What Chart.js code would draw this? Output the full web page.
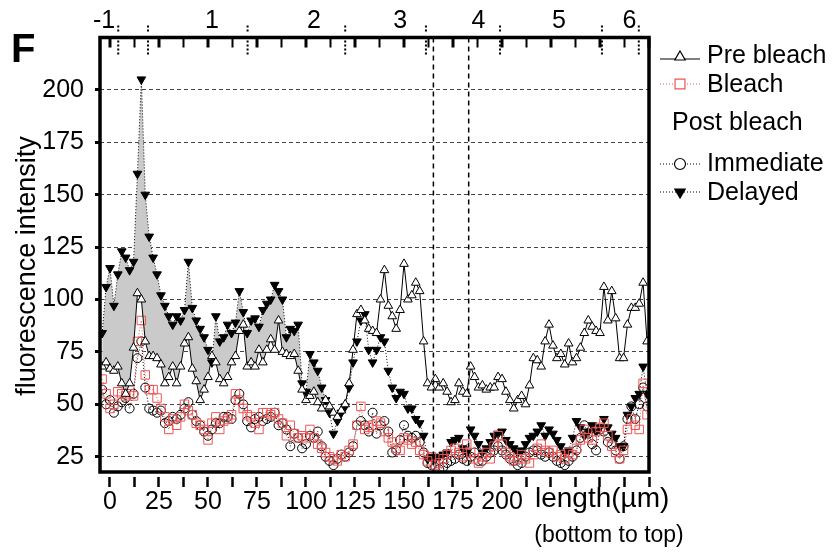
<!DOCTYPE html>
<html>
<head>
<meta charset="utf-8">
<script src="https://cdn.jsdelivr.net/npm/chart.js@4.4.0/dist/chart.umd.min.js"></script>
<style>
  html, body { margin: 0; padding: 0; background: #fff; }
  #wrap { width: 833px; height: 552px; }
</style>
</head>
<body>
<div id="wrap"><canvas id="chart" width="833" height="552"></canvas></div>
<script>
// Fluorescence profile along the cell (panel F)

// positions along the cell, µm (bottom to top)
const lengthUm = [-4, -2, 0, 2, 4, 6, 8, 10, 12, 14, 16, 18, 20, 22, 24, 26, 28, 30, 32, 34, 36, 38, 40, 42, 44, 46, 48, 50, 52, 54,
  56, 58, 60, 62, 64, 66, 68, 70, 72, 74, 76, 78, 80, 82, 84, 86, 88, 90, 92, 94, 96, 98, 100, 102, 104, 106, 108, 110, 112, 114, 116,
  118, 120, 122, 124, 126, 128, 130, 132, 134, 136, 138, 140, 142, 144, 146, 148, 150, 152, 154, 156, 158, 160, 162, 164, 166, 168, 170, 172, 174, 176,
  178, 180, 182, 184, 186, 188, 190, 192, 194, 196, 198, 200, 202, 204, 206, 208, 210, 212, 214, 216, 218, 220, 222, 224,
  226, 228, 230, 232, 234, 236, 238, 240, 242, 244, 246, 248, 250, 252, 254, 256, 258, 260, 262, 264, 266, 268, 270, 272, 274];

const preBleach = [68, 70, 67, 66, 68, 60, 55, 60, 77, 103, 100, 80, 73, 73, 72, 69, 60, 63, 68, 60, 68, 79, 82, 67, 61, 52, 57, 63, 73, 70,
  62, 60, 63, 70, 73, 85, 88, 68, 70, 68, 76, 70, 76, 81, 76, 90, 75, 74, 73, 74, 66, 57, 52, 54, 56, 51, 48, 52, 49, 46, 44,
  47, 50, 60, 76, 93, 95, 90, 86, 85, 84, 100, 114, 97, 92, 86, 95, 117, 100, 102, 108, 104, 80, 60, 58, 62, 58, 60, 56, 51, 52,
  60, 56, 55, 68, 63, 58, 59, 57, 58, 58, 63, 62, 56, 52, 48, 52, 54, 50, 59, 72, 71, 68, 80, 88,
  78, 72, 74, 69, 79, 70, 72, 77, 84, 90, 87, 85, 84, 106, 90, 104, 91, 72, 72, 88, 96, 96, 98, 108, 80];

const bleach = [62, 55, 48, 50, 56, 55, 54, 55, 54, 80, 90, 64, 57, 57, 53, 48, 44, 38, 43, 40, 44, 50, 47, 45, 41, 40, 38, 33, 41, 44,
  38, 42, 43, 45, 55, 52, 48, 45, 44, 41, 38, 46, 46, 45, 46, 43, 41, 35, 40, 36, 34, 35, 34, 38, 34, 31, 29, 27, 25, 24, 23,
  26, 25, 28, 31, 40, 49, 38, 39, 40, 42, 41, 37, 34, 32, 29, 28, 34, 33, 31, 32, 28, 26, 23, 25, 21, 22, 24, 26, 28, 29,
  27, 25, 31, 27, 24, 22, 25, 27, 24, 30, 35, 31, 27, 25, 23, 24, 26, 24, 22, 26, 29, 31, 28, 27,
  28, 25, 26, 24, 27, 26, 29, 33, 38, 34, 33, 37, 39, 41, 35, 30, 27, 24, 28, 38, 43, 40, 38, 60, 45];

const immediate = [57, 50, 52, 46, 49, 51, 53, 48, 55, 72, 80, 58, 48, 47, 46, 47, 41, 42, 44, 43, 45, 48, 51, 45, 42, 40, 37, 35, 38, 41,
  41, 44, 44, 43, 52, 55, 50, 42, 39, 43, 44, 42, 43, 44, 46, 40, 41, 38, 30, 36, 34, 29, 31, 35, 34, 37, 30, 25, 23, 21, 24,
  26, 25, 27, 30, 40, 42, 40, 37, 46, 36, 40, 42, 37, 27, 28, 33, 40, 35, 34, 35, 32, 27, 22, 21, 20, 19, 20, 22, 23, 24,
  26, 24, 23, 25, 27, 23, 23, 25, 27, 28, 30, 28, 26, 24, 23, 21, 22, 25, 27, 28, 28, 26, 25, 27,
  25, 23, 22, 21, 23, 25, 28, 34, 40, 36, 31, 28, 38, 37, 32, 31, 28, 24, 30, 43, 49, 43, 50, 58, 49];

const delayed = [84, 106, 115, 97, 112, 123, 120, 114, 118, 160, 205, 150, 130, 120, 112, 102, 97, 92, 88, 92, 90, 95, 118, 96, 90, 86, 82, 76, 70, 92,
  80, 82, 88, 84, 89, 104, 94, 84, 90, 91, 87, 95, 98, 100, 107, 104, 100, 82, 86, 85, 88, 60, 56, 74, 70, 66, 58, 52, 46, 36, 42,
  46, 49, 58, 70, 80, 90, 93, 76, 70, 76, 82, 80, 66, 58, 53, 56, 55, 48, 48, 43, 41, 35, 24, 25, 24, 25, 26, 27, 32, 33,
  34, 29, 27, 38, 35, 31, 27, 29, 32, 35, 36, 37, 33, 31, 29, 27, 28, 31, 34, 35, 37, 40, 35, 38,
  36, 33, 30, 27, 28, 34, 42, 39, 35, 37, 40, 37, 39, 43, 39, 36, 34, 30, 30, 45, 49, 53, 55, 68, 55];

// axes
const xTickValues = [0, 12.5, 25, 37.5, 50, 62.5, 75, 87.5, 100, 112.5, 125, 137.5, 150, 162.5, 175, 187.5, 200, 212.5, 225, 237.5, 250, 262.5, 275];
const xLabelled = [0, 25, 50, 75, 100, 125, 150, 175, 200];
const yTickValues = [25, 50, 75, 100, 125, 150, 175, 200];

// segment numbering along the top of the plot
const segmentLabels = ['-1', '1', '2', '3', '4', '5', '6'];
const segmentLabelPos = [-3, 52, 104, 148, 188, 229, 265];
const segmentMarks = [4.2, 19.4, 70.2, 120, 161.2, 199, 251, 269.8];
const bleachEdges = [165, 183];

const FONT = "'Liberation Sans', Arial, Helvetica, sans-serif";
const RED = 'rgb(238, 85, 85)';

function toPoints(values) {
    return values.map((v, i) => ({ x: lengthUm[i], y: v }));
}

function marker(ctx, style, x, y, radius, rotation, fill, stroke) {
    ctx.fillStyle = fill;
    ctx.strokeStyle = stroke;
    ctx.lineWidth = 1.2;
    ctx.setLineDash([]);
    Chart.helpers.drawPoint(ctx, { pointStyle: style, radius: radius, rotation: rotation, borderWidth: 1.2 }, x, y);
}

// frame, top axis, bleach window, titles and legend
const decorPlugin = {
    id: 'decor',
    afterDraw(chart) {
        const ctx = chart.ctx;
        const a = chart.chartArea;
        const x = chart.scales.x;
        ctx.save();

        // bleached window
        ctx.strokeStyle = '#000';
        ctx.lineWidth = 1.5;
        ctx.setLineDash([5, 4]);
        bleachEdges.forEach(v => {
            const px = x.getPixelForValue(v);
            ctx.beginPath();
            ctx.moveTo(px, a.top);
            ctx.lineTo(px, a.bottom);
            ctx.stroke();
        });

        // frame
        ctx.setLineDash([]);
        ctx.lineWidth = 3.5;
        ctx.strokeRect(a.left, a.top, a.right - a.left, a.bottom - a.top);

        // top ticks pointing inwards
        xTickValues.forEach(v => {
            const px = x.getPixelForValue(v);
            ctx.lineWidth = v % 25 === 0 ? 3 : 2;
            ctx.beginPath();
            ctx.moveTo(px, a.top);
            ctx.lineTo(px, a.top + 10);
            ctx.stroke();
        });

        // dotted segment marks
        ctx.lineWidth = 2;
        ctx.setLineDash([2, 2]);
        segmentMarks.forEach(v => {
            const px = x.getPixelForValue(v);
            ctx.beginPath();
            ctx.moveTo(px, a.top + 3);
            ctx.lineTo(px, a.top + 19);
            ctx.moveTo(px, a.top - 12);
            ctx.lineTo(px, a.top - 4);
            ctx.stroke();
        });
        ctx.setLineDash([]);

        // top labels
        ctx.fillStyle = '#000';
        ctx.font = '25px ' + FONT;
        ctx.textAlign = 'center';
        ctx.textBaseline = 'middle';
        segmentLabels.forEach((t, i) => {
            ctx.fillText(t, x.getPixelForValue(segmentLabelPos[i]), 21);
        });

        // panel letter
        ctx.font = 'bold 40px ' + FONT;
        ctx.textAlign = 'left';
        ctx.textBaseline = 'alphabetic';
        ctx.fillText('F', 11, 62);

        // axis titles
        ctx.font = '27px ' + FONT;
        ctx.save();
        ctx.translate(28, 266);
        ctx.rotate(-Math.PI / 2);
        ctx.textAlign = 'center';
        ctx.textBaseline = 'middle';
        ctx.fillText('fluorescence intensity', 0, 0);
        ctx.restore();

        ctx.textBaseline = 'middle';
        ctx.textAlign = 'left';
        ctx.font = '28px ' + FONT;
        ctx.fillText('length(\u00b5m)', 535, 499);
        ctx.textAlign = 'center';
        ctx.font = '23px ' + FONT;
        ctx.fillText('(bottom to top)', 609, 536);

        // legend
        const lx0 = 660, lx1 = 700, mx = 680, tx = 707;
        ctx.lineWidth = 1;
        ctx.strokeStyle = '#000';
        ctx.beginPath(); ctx.moveTo(lx0, 59); ctx.lineTo(lx1, 59); ctx.stroke();
        marker(ctx, 'triangle', mx, 57, 6, 0, '#fff', '#000');

        ctx.lineWidth = 1;
        ctx.setLineDash([1, 2]);
        ctx.strokeStyle = RED;
        ctx.beginPath(); ctx.moveTo(lx0, 84); ctx.lineTo(lx1, 84); ctx.stroke();
        marker(ctx, 'rect', mx, 84, 7, 0, '#fff', RED);

        ctx.lineWidth = 1;
        ctx.setLineDash([1, 2]);
        ctx.strokeStyle = '#000';
        ctx.beginPath(); ctx.moveTo(lx0, 164); ctx.lineTo(lx1, 164); ctx.stroke();
        marker(ctx, 'circle', mx, 164, 5.5, 0, '#fff', '#000');

        ctx.lineWidth = 1;
        ctx.setLineDash([1, 2]);
        ctx.beginPath(); ctx.moveTo(lx0, 192); ctx.lineTo(lx1, 192); ctx.stroke();
        marker(ctx, 'triangle', mx, 192, 6, 180, '#000', '#000');

        ctx.fillStyle = '#000';
        ctx.font = '25px ' + FONT;
        ctx.textAlign = 'left';
        ctx.textBaseline = 'middle';
        ctx.fillText('Pre bleach', tx, 56);
        ctx.fillText('Bleach', tx, 85);
        ctx.fillText('Post bleach', 672, 123);
        ctx.fillText('Immediate', tx, 164);
        ctx.fillText('Delayed', tx, 193);

        ctx.restore();
    }
};

const ctx = document.getElementById('chart').getContext('2d');

new Chart(ctx, {
    type: 'line',
    data: {
        datasets: [{
            label: 'Pre bleach',
            data: toPoints(preBleach),
            borderColor: '#000',
            borderWidth: 1,
            pointStyle: 'triangle',
            pointRadius: 5,
            pointBorderColor: '#000',
            pointBackgroundColor: '#fff',
            pointBorderWidth: 1,
            fill: false
        }, {
            label: 'Bleach',
            data: toPoints(bleach),
            borderColor: RED,
            borderWidth: 1,
            borderDash: [1, 2],
            pointStyle: 'rect',
            pointRadius: 6,
            pointBorderColor: RED,
            pointBackgroundColor: 'rgba(255,255,255,0)',
            pointBorderWidth: 1,
            fill: false
        }, {
            label: 'Immediate',
            data: toPoints(immediate),
            borderColor: '#000',
            borderWidth: 1,
            borderDash: [1, 2],
            pointStyle: 'circle',
            pointRadius: 4.5,
            pointBorderColor: '#000',
            pointBackgroundColor: 'rgba(255,255,255,0)',
            pointBorderWidth: 1,
            fill: false
        }, {
            label: 'Delayed',
            data: toPoints(delayed),
            borderColor: '#000',
            borderWidth: 1,
            borderDash: [1, 2],
            pointStyle: 'triangle',
            pointRotation: 180,
            pointRadius: 5,
            pointBorderColor: '#000',
            pointBackgroundColor: '#000',
            pointBorderWidth: 1,
            fill: { target: 0, above: 'rgb(202, 202, 202)', below: 'rgba(0,0,0,0)' }
        }]
    },
    options: {
        responsive: false,
        animation: false,
        devicePixelRatio: 1,
        layout: { padding: { top: 37.5, right: 184, left: 0, bottom: 0 } },
        plugins: {
            legend: { display: false },
            tooltip: { enabled: false },
            filler: { drawTime: 'beforeDatasetsDraw' }
        },
        scales: {
            x: {
                type: 'linear',
                position: 'bottom',
                min: -5.1,
                max: 275,
                afterBuildTicks: scale => { scale.ticks = xTickValues.map(v => ({ value: v })); },
                afterFit: scale => { scale.height = 80; },
                ticks: {
                    autoSkip: false,
                    maxRotation: 0,
                    padding: 0,
                    color: '#000',
                    font: { family: FONT, size: 25 },
                    callback: v => xLabelled.includes(v) ? String(v) : ''
                },
                grid: {
                    drawOnChartArea: false,
                    tickLength: 15,
                    tickWidth: 2.5,
                    tickColor: '#000',
                    tickBorderDash: [0, 5, 10, 60]
                },
                border: { display: false }
            },
            y: {
                type: 'linear',
                min: 17.7,
                max: 225,
                afterBuildTicks: scale => { scale.ticks = yTickValues.map(v => ({ value: v })); },
                afterFit: scale => { scale.width = 100; },
                ticks: {
                    autoSkip: false,
                    padding: 11,
                    color: '#000',
                    font: { family: FONT, size: 25 }
                },
                grid: {
                    color: '#444',
                    lineWidth: 1,
                    tickLength: 5,
                    tickWidth: 3,
                    tickColor: '#000',
                    tickBorderDash: []
                },
                border: { display: false, dash: [4, 3] }
            }
        }
    },
    plugins: [decorPlugin]
});
</script>
</body>
</html>
